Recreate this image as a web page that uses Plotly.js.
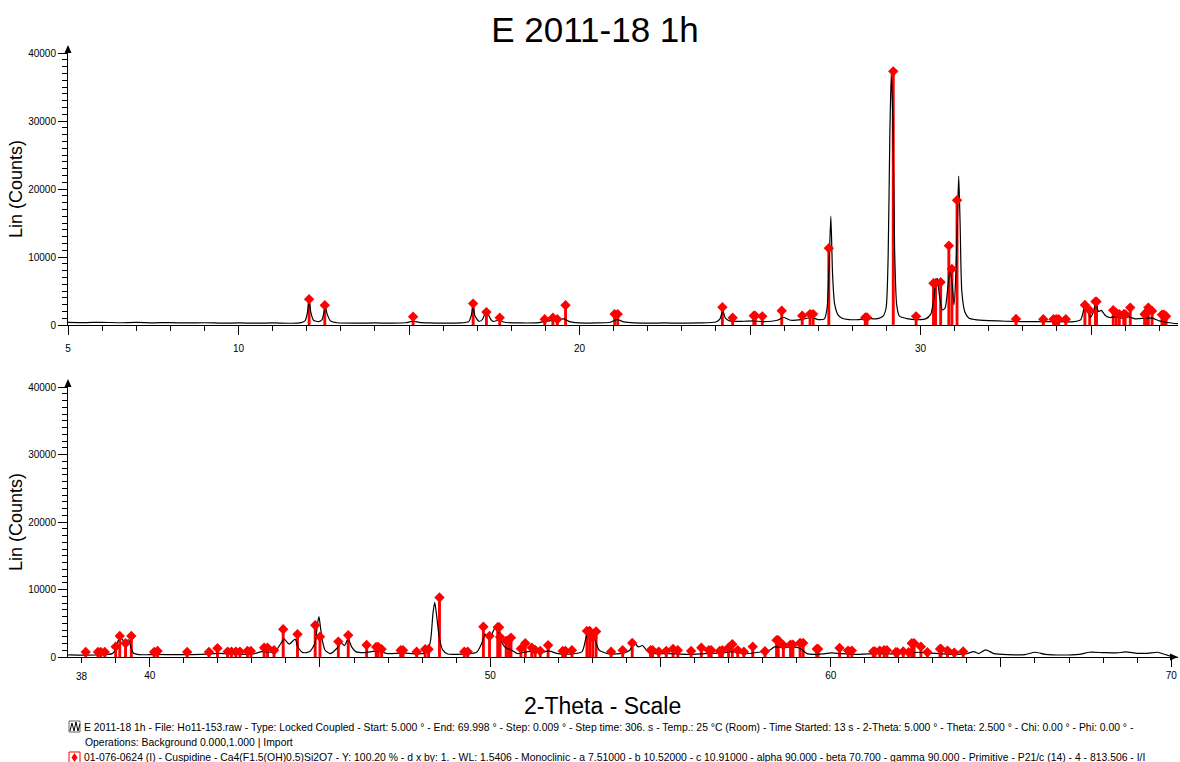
<!DOCTYPE html>
<html>
<head>
<meta charset="utf-8">
<script src="https://cdn.plot.ly/plotly-3.0.1.min.js"></script>
<style>html,body{margin:0;padding:0;background:#fff;}#chart{width:1180px;height:762px;}</style>
</head>
<body>
<div id="chart"></div>
<script>
const patternX = [
5.0,5.5,6.0,6.5,7.0,7.5,8.0,8.5,9.0,9.5,10.0,10.5,11.0,11.5,11.8,11.95,12.02,12.07,12.12,12.2,12.35,12.45,12.5,12.55,12.6,12.7,12.9,
13.5,14.0,14.5,14.9,15.1,15.3,15.6,16.0,16.5,16.75,16.83,16.88,16.93,17.05,17.15,17.22,17.28,17.33,17.45,17.65,17.8,
18.3,18.8,19.1,19.35,19.55,19.7,20.0,20.5,20.9,21.1,21.3,21.6,22.0,22.5,23.0,23.5,24.0,24.12,24.2,24.28,24.4,24.8,
25.1,25.4,25.8,25.98,26.2,26.5,26.8,27.0,27.18,27.26,27.32,27.37,27.42,27.48,27.58,27.7,27.9,28.2,28.45,28.7,28.9,
28.99,29.05,29.1,29.14,29.19,29.24,29.3,29.38,29.6,29.9,30.15,30.3,30.38,30.45,30.49,30.55,30.64,30.72,30.8,30.86,
30.92,30.98,31.04,31.09,31.12,31.16,31.21,31.3,31.42,31.6,32.0,32.5,33.0,33.5,34.0,34.5,34.7,34.8,34.85,34.92,34.98,
35.06,35.14,35.22,35.3,35.42,35.55,35.7,35.9,36.1,36.3,36.6,36.8,37.0,37.2,37.5,
37.6,38.0,38.5,38.9,39.0,39.07,39.17,39.27,39.38,39.45,39.52,39.7,40.2,40.8,41.5,42.0,42.5,43.0,43.3,43.5,43.7,
43.85,43.95,44.1,44.27,44.36,44.5,44.7,44.85,44.93,44.97,45.02,45.08,45.15,45.3,45.5,45.62,45.72,45.83,45.93,46.05,
46.3,46.7,47.0,47.4,47.9,48.15,48.25,48.32,48.37,48.43,48.5,48.6,48.75,49.0,49.3,49.6,49.75,49.85,49.95,50.02,50.15,
50.22,50.3,50.45,50.6,50.8,51.0,51.3,51.5,51.7,52.0,52.4,52.7,52.82,52.89,52.95,53.0,53.09,53.2,53.5,53.9,54.1,54.22,
54.35,54.47,54.6,54.8,55.3,55.8,56.3,56.8,57.1,57.5,57.9,58.2,58.35,58.6,58.9,59.1,59.3,59.8,60.0,60.3,60.8,61.3,
61.8,62.3,62.6,62.8,63.2,63.6,64.0,64.2,64.35,64.55,64.8,65.2,65.7,66.0,66.3,66.8,67.3,67.6,68.0,68.4,68.65,69.0,
69.3,69.6,69.8,70.0
];
const patternY = [
380,350,400,330,380,320,350,300,330,280,300,270,300,260,300,600,1800,3700,1900,700,500,800,1700,2600,1600,600,330,
280,300,280,330,550,380,300,270,300,500,1500,3000,1400,550,800,1600,2450,1500,550,700,400,
300,350,600,800,900,500,320,300,400,800,450,300,280,300,280,300,450,900,2100,1000,600,550,
600,500,700,1100,700,800,1100,800,900,2500,9000,16000,7500,3100,1500,1000,800,800,950,900,1300,
2500,10000,28000,36900,30000,11000,3000,1300,950,800,900,1600,3500,6500,6850,4500,2200,2500,5500,8000,
6500,2950,8000,17000,21900,15000,5000,1900,1000,800,650,550,500,500,480,500,800,2600,3300,2000,1100,
1800,3200,2000,2150,1400,1100,1200,1000,1200,900,1000,1000,600,400,200,
300,280,300,500,1200,2380,2720,2200,2550,1400,600,350,380,350,380,550,450,400,800,700,900,
2000,2650,1900,2650,1400,650,800,2000,5000,6000,4200,2200,1000,500,1300,2100,1700,2700,1500,800,
650,900,500,600,450,700,2500,6500,8100,6000,3000,1100,450,400,450,700,2000,3400,3000,3100,4400,
4000,2600,1400,1100,500,700,900,650,900,500,450,800,3000,3870,3000,3750,2380,1000,450,550,1000,2130,
1500,1700,1000,550,500,400,500,600,800,500,700,1000,1500,1400,1500,1300,500,450,600,500,400,500,
450,600,700,600,500,400,500,800,500,1050,500,350,350,700,400,300,400,700,650,600,750,550,
550,700,400,100
];

// Cuspidine 01-076-0624 reference lines (2-Theta, counts)
const stickPos = [
12.07,12.53,15.12,16.88,17.27,17.66,18.98,19.22,19.35,19.59,21.03,21.12,24.19,24.49,25.11,25.15,25.36,25.93,26.53,
26.76,26.85,27.31,28.38,28.43,29.2,29.87,30.38,30.44,30.59,30.83,30.92,31.07,32.8,33.6,33.9,33.98,34.05,34.26,34.82,
34.96,35.13,35.16,35.65,35.74,35.83,35.96,36.0,36.15,36.57,36.63,36.68,36.79,37.08,37.14,37.2,
38.12,38.48,38.56,38.68,39.0,39.12,39.29,39.46,40.13,40.23,41.1,41.74,41.99,42.29,42.4,42.53,42.65,42.87,42.97,
43.36,43.46,43.65,43.92,44.34,44.86,45.0,45.54,45.83,46.37,46.65,46.71,46.81,47.37,47.44,47.84,48.09,48.19,48.51,
49.24,49.34,49.8,49.98,50.22,50.26,50.29,50.47,50.54,50.61,50.9,51.03,51.22,51.32,51.47,51.7,52.13,52.21,52.4,
52.84,52.92,53.01,53.11,53.55,53.89,54.17,54.71,54.77,54.95,55.17,55.37,55.51,55.9,56.2,56.42,56.49,56.74,56.82,
57.0,57.11,57.27,57.45,57.71,58.07,58.41,58.46,58.61,58.82,58.89,59.1,59.19,59.59,59.63,60.26,60.51,60.62,61.25,
61.3,61.44,61.57,61.65,61.91,61.96,62.13,62.29,62.38,62.45,62.65,62.84,63.21,63.24,63.43,63.63,63.89
];
const stickInt = [
3800,2900,1230,3150,1900,1080,840,1080,840,2900,1600,1600,2600,1070,1360,1360,1270,2100,1360,
1600,1600,11300,1120,1120,37300,1270,6150,6150,6300,11670,8250,18360,900,840,840,840,840,840,2950,
2170,3440,3440,2170,1770,1580,1580,1580,2560,1580,1870,2560,2070,1500,1500,1280,
740,740,740,740,1530,3120,2030,3120,740,900,740,740,1290,800,800,800,800,900,900,
1380,1380,1000,4110,3370,4710,3000,2280,3220,1780,1490,1490,1140,1000,1000,790,1140,1140,8820,
790,790,4480,3120,4400,4400,2970,2380,2530,2870,1240,2040,1380,1040,890,1740,890,890,1000,
3870,3870,2870,3770,790,1000,2080,1000,1000,800,890,1200,1000,890,1380,1000,1000,890,1000,
1380,1880,1000,790,1530,860,2500,2500,1740,1840,1840,2080,2080,1180,1180,1340,950,950,830,
830,950,1000,1000,700,700,830,700,2030,2030,1530,700,1180,1180,950,650,830
];

const topTickVals = [5,10,15,20,25,30,35];
const topTickText = ['5','10','','20','','30',''];
const botTickVals = [40,45,50,55,60,65,70];
const botTickText = ['40','','50','','60','','70'];
const yTickVals = [0,10000,20000,30000,40000];
const yTickText = ['0','10000','20000','30000','40000'];

const FONT = 'Arial, "Liberation Sans", sans-serif';
const traces = [];
[['x','y'],['x2','y2']].forEach(([xa,ya]) => {
  traces.push({type:'scatter', mode:'lines', x:patternX, y:patternY, xaxis:xa, yaxis:ya,
    line:{color:'#000', width:1.2, shape:'spline', smoothing:0.6}, hoverinfo:'skip', showlegend:false});
  traces.push({type:'bar', x:stickPos, y:stickInt, xaxis:xa, yaxis:ya, width:0.085,
    marker:{color:'#ff0000', line:{width:0}}, hoverinfo:'skip', showlegend:false});
  traces.push({type:'scatter', mode:'markers', x:stickPos, y:stickInt, xaxis:xa, yaxis:ya, cliponaxis:true,
    marker:{symbol:'diamond', size:8, color:'#ff0000'}, hoverinfo:'skip', showlegend:false});
});

function xAxis(range, vals, text, anchor, standoff){
  return {range:range, anchor:anchor, domain:[0,1], tickmode:'array', tickvals:vals, ticktext:text,
    ticks:'outside', ticklen:9, tickwidth:1, tickcolor:'#000', showline:true, linecolor:'#000', linewidth:1,
    showgrid:false, zeroline:false, tickfont:{family:FONT, size:10, color:'#000'}, ticklabelstandoff:standoff,
    minor:{dtick:1, tick0:0, ticks:'outside', ticklen:5, tickcolor:'#000', showgrid:false}};
}
function yAxis(domain, anchor){
  return {range:[0,40000], domain:domain, anchor:anchor, tickmode:'array', tickvals:yTickVals, ticktext:yTickText,
    ticks:'outside', ticklen:9, tickwidth:1, tickcolor:'#000', showline:true, linecolor:'#000', linewidth:1,
    showgrid:false, zeroline:false, tickfont:{family:FONT, size:10, color:'#000'},
    minor:{dtick:1000, tick0:0, ticks:'outside', ticklen:5, tickcolor:'#000', showgrid:false},
    title:{text:'Lin (Counts)', font:{family:FONT, size:18, color:'#000'}, standoff:0}};
}

const L = 68, W = 1110, B = 657, H = 607;
const px = v => (v - L) / W;
const py = v => (B - v) / H;
function pathFrom(points, close){
  return points.map((p,i)=> (i?'L':'M') + px(p[0]).toFixed(5) + ',' + py(p[1]).toFixed(5)).join(' ') + (close?' Z':'');
}

const shapes = [
  {type:'path', xref:'x domain', yref:'y domain', xsizemode:'pixel', ysizemode:'pixel', xanchor:0, yanchor:1,
    path:'M -3.5 0 L 3.5 0 L 0 8 Z', fillcolor:'#000', line:{width:0}},
  {type:'path', xref:'x2 domain', yref:'y2 domain', xsizemode:'pixel', ysizemode:'pixel', xanchor:0, yanchor:1,
    path:'M -3.5 0 L 3.5 0 L 0 8 Z', fillcolor:'#000', line:{width:0}},
  {type:'path', xref:'x2 domain', yref:'y2 domain', xsizemode:'pixel', ysizemode:'pixel', xanchor:1, yanchor:0,
    path:'M -8 -3.5 L -8 3.5 L 0 0 Z', fillcolor:'#000', line:{width:0}},
  {type:'rect', xref:'paper', yref:'paper', x0:px(69), x1:px(80), y0:py(732), y1:py(721), line:{color:'#666', width:1}},
  {type:'path', xref:'paper', yref:'paper', path:pathFrom([[70,731],[72,723],[74,731],[76,722],[78,731],[80,724]]),
    line:{color:'#000', width:1}},
  {type:'rect', xref:'paper', yref:'paper', x0:px(69), x1:px(80), y0:py(763), y1:py(752), line:{color:'#ff0000', width:1}},
  {type:'path', xref:'paper', yref:'paper', path:pathFrom([[74.5,753],[77.5,757.5],[74.5,762],[71.5,757.5]], true),
    fillcolor:'#ff0000', line:{width:0}}
];

const legendFont = {family:FONT, size:10.4, color:'#000'};
const annotations = [
  {xref:'paper', yref:'paper', x:px(602), y:py(706), text:'2-Theta - Scale', showarrow:false,
    xanchor:'center', yanchor:'middle', font:{family:FONT, size:23, color:'#000'}},
  {xref:'x2', yref:'paper', x:38, y:py(676), text:'38', showarrow:false, xanchor:'center', yanchor:'middle',
    font:{family:FONT, size:10, color:'#000'}},
  {xref:'paper', yref:'paper', x:px(82), y:py(727), xanchor:'left', yanchor:'middle', showarrow:false, font:legendFont,
    text:'E 2011-18 1h - File: Ho11-153.raw - Type: Locked Coupled - Start: 5.000 ° - End: 69.998 ° - Step: 0.009 ° - Step time: 306. s - Temp.: 25 °C (Room) - Time Started: 13 s - 2-Theta: 5.000 ° - Theta: 2.500 ° - Chi: 0.00 ° - Phi: 0.00 ° -'},
  {xref:'paper', yref:'paper', x:px(83), y:py(742), xanchor:'left', yanchor:'middle', showarrow:false, font:legendFont,
    text:'Operations: Background 0.000,1.000 | Import'},
  {xref:'paper', yref:'paper', x:px(82), y:py(757), xanchor:'left', yanchor:'middle', showarrow:false, font:legendFont,
    text:'01-076-0624 (I) - Cuspidine - Ca4(F1.5(OH)0.5)Si2O7 - Y: 100.20 % - d x by: 1. - WL: 1.5406 - Monoclinic - a 7.51000 - b 10.52000 - c 10.91000 - alpha 90.000 - beta 70.700 - gamma 90.000 - Primitive - P21/c (14) - 4 - 813.506 - I/I'}
];

const layout = {
  width:1180, height:762,
  margin:{l:L, r:1180-L-W, t:B-H, b:762-B, pad:0},
  paper_bgcolor:'#fff', plot_bgcolor:'#fff',
  font:{family:FONT, color:'#000'},
  title:{text:'E 2011-18 1h', font:{family:FONT, size:35, color:'#000'}, x:595/1180, xref:'container', xanchor:'center',
    y:1-30/762, yref:'container', yanchor:'middle'},
  showlegend:false,
  barmode:'overlay',
  xaxis: xAxis([5, 37.55], topTickVals, topTickText, 'y', 5),
  xaxis2: xAxis([37.6, 70.2], botTickVals, botTickText, 'y2', 0),
  yaxis: yAxis([(B-325)/H, (B-53)/H], 'x'),
  yaxis2: yAxis([0, (B-387)/H], 'x2'),
  shapes:shapes,
  annotations:annotations
};

Plotly.newPlot('chart', traces, layout, {staticPlot:true, displayModeBar:false});
</script>
</body>
</html>
